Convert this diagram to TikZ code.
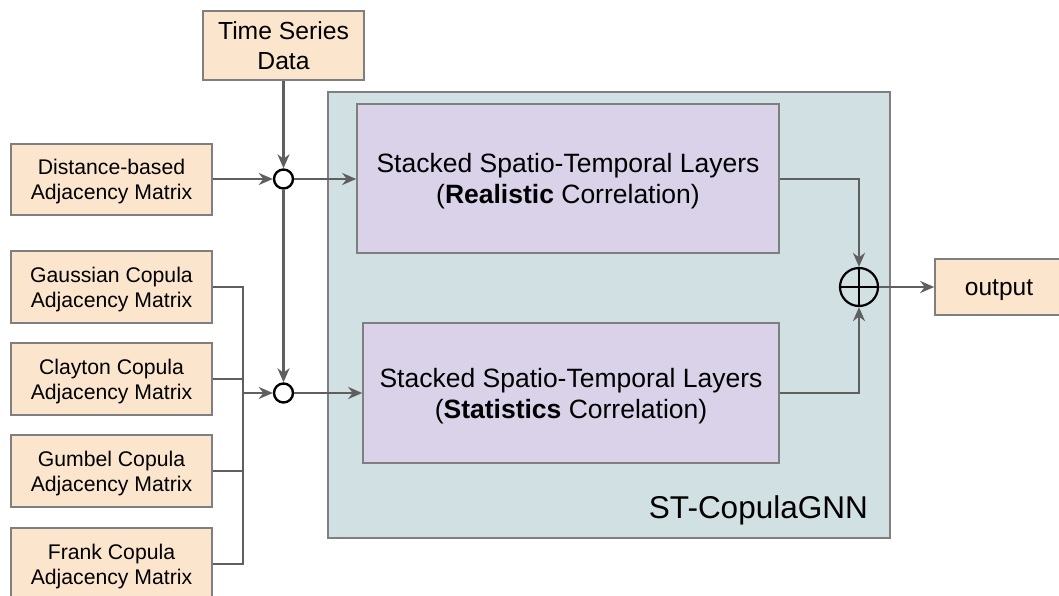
\documentclass[tikz,border=0pt]{standalone}
\usepackage{fontspec}
\setmainfont{Liberation Sans}
\usetikzlibrary{arrows.meta}
\definecolor{peach}{HTML}{FCE5CD}
\definecolor{teal}{HTML}{D0E0E3}
\definecolor{lilac}{HTML}{D9D2E9}
\definecolor{edge}{HTML}{7F7F7F}
\definecolor{wire}{HTML}{5F5F5F}
\tikzset{
  % text height = leading + cap height and no depth, so that the
  % capitals of the lines sit visually centred in the boxes
  inbox/.style={draw=edge, line width=1.6pt, fill=peach, align=center, inner sep=0pt,
    font=\fontsize{21.2}{25}\selectfont, text height=40.2pt, text depth=0pt},
  layerbox/.style={draw=edge, line width=1.6pt, fill=lilac, align=center, inner sep=0pt,
    font=\fontsize{26.5}{31}\selectfont, text height=50pt, text depth=0pt},
  wireline/.style={draw=wire, line width=2.4pt},
  flow/.style={wireline, -{Stealth[length=14pt, width=12pt, inset=4.5pt]}},
  junction/.style={circle, draw=black, line width=2.4pt, fill=white, minimum size=19pt, inner sep=0pt},
}
\begin{document}
\begin{tikzpicture}[x=1pt, y=-1pt]
\useasboundingbox (0,0) rectangle (1059,596);
% model container
\node[draw=edge, line width=1.6pt, fill=teal, minimum width=562pt, minimum height=446pt, inner sep=0pt]
  (model) at (609,315) {};
\node[font=\fontsize{31.5}{35}\selectfont, anchor=base east, inner sep=0pt] (modelname) at (868,518) {ST-CopulaGNN};
% inputs
\node[inbox, minimum width=161pt, minimum height=69pt, font=\fontsize{24.7}{30}\selectfont,
  text height=47.7pt, text depth=0pt]
  (ts) at (283.5,45.5) {Time Series\\Data};
\node[inbox, minimum width=201pt, minimum height=71pt] (dist) at (111.5,179.5) {Distance-based\\Adjacency Matrix};
\node[inbox, minimum width=201pt, minimum height=72pt] (gauss) at (111.5,287) {Gaussian Copula\\Adjacency Matrix};
\node[inbox, minimum width=201pt, minimum height=72pt] (clay) at (111.5,379) {Clayton Copula\\Adjacency Matrix};
\node[inbox, minimum width=201pt, minimum height=72pt] (gumb) at (111.5,471) {Gumbel Copula\\Adjacency Matrix};
\node[inbox, minimum width=201pt, minimum height=72pt] (frank) at (111.5,564) {Frank Copula\\Adjacency Matrix};
% layers
\node[layerbox, minimum width=422pt, minimum height=149pt] (real) at (568,178.5)
  {Stacked Spatio-Temporal Layers\\(\textbf{Realistic} Correlation)};
\node[layerbox, minimum width=416pt, minimum height=140pt] (stat) at (571,393)
  {Stacked Spatio-Temporal Layers\\(\textbf{Statistics} Correlation)};
% junctions and sum
\node[junction] (j1) at (283.5,179) {};
\node[junction] (j2) at (283.5,393) {};
\node[circle, draw=black, line width=2.2pt, minimum size=38pt, inner sep=0pt] (sum) at (859,287) {};
\draw[black, line width=2.2pt] (sum.north) -- (sum.south) (sum.west) -- (sum.east);
\node[inbox, minimum width=128pt, minimum height=56pt, font=\fontsize{24.5}{28}\selectfont,
  text height=17.5pt, text depth=0pt]
  (out) at (999,287) {output};
% copula bus
\coordinate (bustop) at (243,287);
\coordinate (busbot) at (243,564);
\coordinate (busj) at (243,393);
\draw[wireline] (gauss.east) -- (bustop) -- (busbot) -- (frank.east);
\draw[wireline] (clay.east) -- (clay.east -| bustop);
\draw[wireline] (gumb.east) -- (gumb.east -| bustop);
% flows
\draw[flow] (ts.south) -- (j1.north);
\draw[flow] (j1.south) -- (j2.north);
\draw[flow] (dist.east |- j1) -- (j1.west);
\draw[flow] (busj) -- (j2.west);
\draw[flow] (j1.east) -- (real.west |- j1);
\draw[flow] (j2.east) -- (stat.west |- j2);
\draw[flow] (real.east |- j1) -| (sum.north);
\draw[flow] (stat.east |- j2) -| (sum.south);
\draw[flow] (sum.east) -- (out.west);
\end{tikzpicture}
\end{document}
